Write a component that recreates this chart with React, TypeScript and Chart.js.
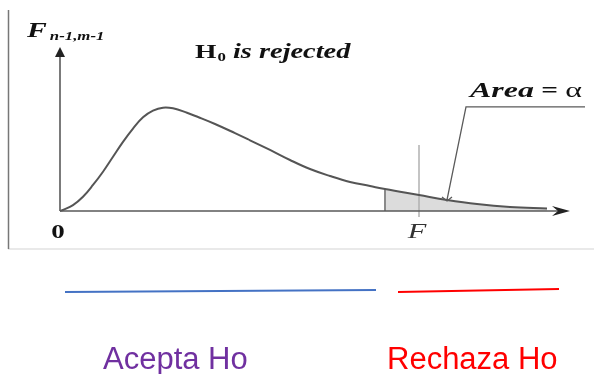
import React, { useEffect, useRef } from "react";
import { Chart, registerables } from "chart.js";

Chart.register(...registerables);

// F-distribution curve (x = F value, y = density)
const curveX = [0, 0.03, 0.13, 0.23, 0.33, 0.43, 0.53, 0.63, 0.73, 0.83, 0.93, 1.03, 1.13, 1.27, 1.38, 1.55, 1.75, 1.9, 2.1, 2.3, 2.5, 2.7, 2.9, 3.1, 3.25, 3.59, 3.87, 4.17, 4.5, 4.87];
const curveY = [0, 0.006, 0.035, 0.084, 0.153, 0.231, 0.319, 0.407, 0.485, 0.551, 0.59, 0.608, 0.604, 0.578, 0.553, 0.512, 0.458, 0.416, 0.359, 0.3, 0.247, 0.206, 0.171, 0.147, 0.129, 0.094, 0.065, 0.041, 0.024, 0.015];

// rejection region and critical value
const shadeStart = 3.25;
const fCritical = 3.59;
const fLineTop = 0.388;
const fLineBottom = -0.035;
const alphaPoint = [3.87, 0.065];
const leaderCorner = [4.06, 0.612];
const leaderEnd = 5.25;

// axis extents
const xAxisEnd = 5.1;
const yAxisTop = 0.965;

// decision ranges shown under the chart
const acceptRange = [0.05, 3.16];
const acceptLevel = [-0.476, -0.465];
const rejectRange = [3.38, 4.99];
const rejectLevel = [-0.476, -0.459];

const labels = {
  yTitle: "F",
  ySub: "n-1,m-1",
  h0: "H",
  h0Sub: "0",
  rejected: " is rejected",
  area: "Area",
  eq: " = ",
  alpha: "α",
  zero: "0",
  f: "F",
  accept: "Acepta Ho",
  reject: "Rechaza Ho",
};

const SERIF = '"Liberation Serif", "Times New Roman", serif';
const SANS = '"Liberation Sans", Arial, sans-serif';

// draws horizontally stretched text, returns advanced width
function stretched(ctx: any, text: string, x: number, y: number, font: string, sx: number, align = "left") {
  ctx.save();
  ctx.font = font;
  const w = ctx.measureText(text).width * sx;
  const startX = align === "center" ? x - w / 2 : x;
  ctx.translate(startX, y);
  ctx.scale(sx, 1);
  ctx.textAlign = "left";
  ctx.fillText(text, 0, 0);
  ctx.restore();
  return w;
}

export default function App() {
  const ref = useRef<HTMLCanvasElement | null>(null);

  useEffect(() => {
    if (!ref.current) return;
    const curve = curveX.map((x, i) => ({ x, y: curveY[i] }));
    const tail = curve.filter((p) => p.x >= shadeStart);

    const overlay = {
      id: "overlay",
      beforeDatasetsDraw(chart: any) {
        const ctx = chart.ctx;
        ctx.save();
        ctx.strokeStyle = "#e2e2e2";
        ctx.lineWidth = 1.5;
        ctx.beginPath();
        ctx.moveTo(8, 249);
        ctx.lineTo(594, 249);
        ctx.stroke();
        ctx.strokeStyle = "#777";
        ctx.lineWidth = 1.5;
        ctx.beginPath();
        ctx.moveTo(8.5, 10);
        ctx.lineTo(8.5, 249);
        ctx.stroke();
        ctx.restore();
      },
      afterDatasetsDraw(chart: any) {
        const ctx = chart.ctx;
        const xs = chart.scales.x;
        const ys = chart.scales.y;
        const px = (v: number) => xs.getPixelForValue(v);
        const py = (v: number) => ys.getPixelForValue(v);
        ctx.save();
        const x0 = px(0);
        const y0 = py(0);
        // axes
        ctx.strokeStyle = "#5a5a5a";
        ctx.fillStyle = "#222";
        ctx.lineWidth = 1.6;
        ctx.beginPath();
        ctx.moveTo(x0, y0);
        ctx.lineTo(x0, py(yAxisTop) + 8);
        ctx.moveTo(x0, y0);
        ctx.lineTo(px(xAxisEnd) - 12, y0);
        ctx.stroke();
        const yt = py(yAxisTop);
        ctx.beginPath();
        ctx.moveTo(x0, yt);
        ctx.lineTo(x0 - 5, yt + 10);
        ctx.lineTo(x0 + 5, yt + 10);
        ctx.closePath();
        ctx.fill();
        const xe = px(xAxisEnd);
        ctx.beginPath();
        ctx.moveTo(xe, y0);
        ctx.lineTo(xe - 18, y0 - 5);
        ctx.lineTo(xe - 12, y0);
        ctx.lineTo(xe - 18, y0 + 5);
        ctx.closePath();
        ctx.fill();

        // leader line to the area
        ctx.strokeStyle = "#5a5a5a";
        ctx.lineWidth = 1.3;
        const ax = px(alphaPoint[0]);
        const ay = py(alphaPoint[1]);
        const cx = px(leaderCorner[0]);
        const cy = py(leaderCorner[1]);
        ctx.beginPath();
        ctx.moveTo(px(leaderEnd), cy);
        ctx.lineTo(cx, cy);
        ctx.lineTo(ax, ay);
        ctx.stroke();
        ctx.beginPath();
        ctx.moveTo(ax - 5, ay - 3);
        ctx.lineTo(ax, ay + 1);
        ctx.lineTo(ax + 5, ay - 3);
        ctx.stroke();

        // texts
        ctx.fillStyle = "#111";
        ctx.textBaseline = "alphabetic";
        let tx = 27;
        tx += stretched(ctx, labels.yTitle, tx, 37, `bold italic 22px ${SERIF}`, 1.35);
        stretched(ctx, labels.ySub, tx + 3, 40, `bold italic 12px ${SERIF}`, 1.4);

        tx = 195;
        tx += stretched(ctx, labels.h0, tx, 58, `bold 19px ${SERIF}`, 1.45) + 1;
        tx += stretched(ctx, labels.h0Sub, tx, 61, `bold 12px ${SERIF}`, 1.4);
        stretched(ctx, labels.rejected, tx, 58, `bold italic 20px ${SERIF}`, 1.42);

        tx = 470;
        tx += stretched(ctx, labels.area, tx, 97, `bold italic 21px ${SERIF}`, 1.52);
        tx += stretched(ctx, labels.eq, tx, 97, `bold 21px ${SERIF}`, 1.4);
        stretched(ctx, labels.alpha, tx, 97, `22px ${SERIF}`, 1.45);

        stretched(ctx, labels.zero, x0 - 2, 238, `bold 18px ${SERIF}`, 1.5, "center");
        ctx.fillStyle = "#333";
        stretched(ctx, labels.f, px(fCritical) - 2, 238, `italic 21px ${SERIF}`, 1.45, "center");

        ctx.textAlign = "left";
        ctx.font = `31px ${SANS}`;
        ctx.fillStyle = "#7030A0";
        ctx.fillText(labels.accept, 103, 369);
        ctx.fillStyle = "#FF0000";
        ctx.fillText(labels.reject, 387, 369);
        ctx.restore();
      },
    };

    const chart = new Chart(ref.current, {
      type: "line",
      data: {
        datasets: [
          {
            label: "F density",
            data: curve,
            borderColor: "#555",
            borderWidth: 2,
            pointRadius: 0,
            tension: 0.4,
            fill: false,
            order: 0,
          },
          {
            label: "Area = α",
            data: tail,
            borderWidth: 0,
            borderColor: "rgba(0,0,0,0)",
            backgroundColor: "#dcdcdc",
            pointRadius: 0,
            tension: 0.4,
            fill: "origin",
            order: 5,
          },
          {
            label: "edge",
            data: [
              { x: shadeStart, y: 0 },
              { x: shadeStart, y: curveY[curveX.indexOf(shadeStart)] },
            ],
            borderColor: "#8a8a8a",
            borderWidth: 2,
            pointRadius: 0,
            order: 4,
          },
          {
            label: "F crit",
            data: [
              { x: fCritical, y: fLineBottom },
              { x: fCritical, y: fLineTop },
            ],
            borderColor: "#b0b0b0",
            borderWidth: 1.5,
            pointRadius: 0,
            order: 3,
          },
          {
            label: labels.accept,
            data: [
              { x: acceptRange[0], y: acceptLevel[0] },
              { x: acceptRange[1], y: acceptLevel[1] },
            ],
            borderColor: "#4472C4",
            borderWidth: 2,
            pointRadius: 0,
            order: 1,
          },
          {
            label: labels.reject,
            data: [
              { x: rejectRange[0], y: rejectLevel[0] },
              { x: rejectRange[1], y: rejectLevel[1] },
            ],
            borderColor: "#FF0000",
            borderWidth: 2,
            pointRadius: 0,
            order: 1,
          },
        ],
      },
      options: {
        animation: false,
        responsive: false,
        maintainAspectRatio: false,
        layout: { padding: 0 },
        plugins: { legend: { display: false }, tooltip: { enabled: false } },
        events: [],
        scales: {
          x: { type: "linear", display: false, min: -0.6, max: 5.34 },
          y: { type: "linear", display: false, min: -0.9588, max: 1.2412 },
        },
      },
      plugins: [overlay],
    } as any);
    return () => chart.destroy();
  }, []);

  return (
    <div style={{ position: "fixed", left: 0, top: 0, width: 594, height: 374, background: "#fff" }}>
      <canvas ref={ref} width={594} height={374} style={{ display: "block" }} />
    </div>
  );
}
